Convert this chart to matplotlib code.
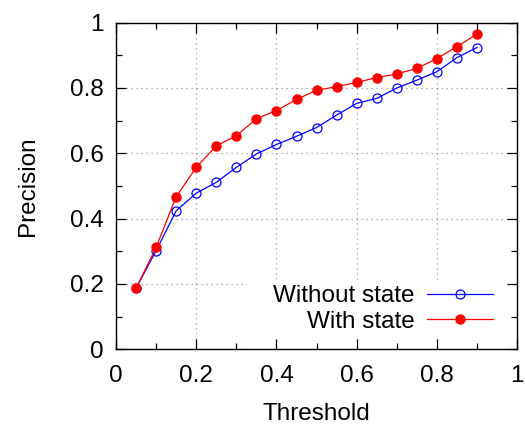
import matplotlib
matplotlib.use('Agg')
import matplotlib.pyplot as plt
from matplotlib.ticker import MultipleLocator, FuncFormatter
from matplotlib.patches import Rectangle

plt.rcParams['font.family'] = ['Liberation Sans', 'DejaVu Sans']

threshold = [0.05, 0.10, 0.15, 0.20, 0.25, 0.30, 0.35, 0.40, 0.45,
             0.50, 0.55, 0.60, 0.65, 0.70, 0.75, 0.80, 0.85, 0.90]
without_state = [0.187, 0.302, 0.424, 0.478, 0.511, 0.557, 0.598, 0.627, 0.652,
                 0.679, 0.717, 0.753, 0.768, 0.800, 0.824, 0.850, 0.893, 0.924]
with_state = [0.187, 0.312, 0.467, 0.557, 0.623, 0.654, 0.706, 0.731, 0.765,
              0.793, 0.804, 0.817, 0.832, 0.843, 0.860, 0.890, 0.927, 0.965]

FS = 17.5

fig = plt.figure(figsize=(5.25, 4.28), dpi=100)
ax = fig.add_axes([0.221, 0.184, 0.764, 0.763])
ax.set_axisbelow(False)

ax.plot(threshold, without_state, color='#0000ff', lw=0.9, marker='o',
        ms=6.5, mfc='none', mec='#0000ff', mew=0.9, label='Without state', zorder=2)
ax.plot(threshold, with_state, color='#ff0000', lw=0.9, marker='o',
        ms=6.5, mfc='#ff0000', mec='#ff0000', label='With state', zorder=2)

ax.set_xlim(0, 1)
ax.set_ylim(0, 1)
ax.xaxis.set_major_locator(MultipleLocator(0.2))
ax.yaxis.set_major_locator(MultipleLocator(0.2))
ax.xaxis.set_minor_locator(MultipleLocator(0.1))
ax.yaxis.set_minor_locator(MultipleLocator(0.1))
ax.xaxis.set_major_formatter(FuncFormatter(lambda v, p: f'{v:g}'))
ax.yaxis.set_major_formatter(FuncFormatter(lambda v, p: f'{v:g}'))
ax.tick_params(which='both', direction='in', top=True, right=True, labelsize=FS)
ax.tick_params(which='major', length=7, width=0.9)
ax.tick_params(axis='x', which='major', pad=11)
ax.tick_params(axis='y', which='major', pad=9)
ax.tick_params(which='minor', length=4.5, width=0.9)
for s in ax.spines.values():
    s.set_linewidth(1.0)

# dotted grid at major ticks, drawn below the key box
for v in ax.get_xticks()[1:-1]:
    ax.axvline(v, color='#999999', linestyle=(0, (1, 3)), lw=0.9, zorder=0.6)
for v in ax.get_yticks()[1:-1]:
    ax.axhline(v, color='#999999', linestyle=(0, (1, 3)), lw=0.9, zorder=0.6)

# opaque key area (gnuplot style)
ax.add_patch(Rectangle((0.327, 0.0), 0.673, 0.212, transform=ax.transAxes,
                       facecolor='white', edgecolor='none', zorder=1))

ax.set_xlabel('Threshold', fontsize=FS, labelpad=12)
ax.set_ylabel('Precision', fontsize=FS, labelpad=22)

leg = ax.legend(loc='lower right', markerfirst=False, fontsize=FS,
                frameon=False, handlelength=2.7, borderaxespad=0,
                labelspacing=0.15, handletextpad=0.5,
                bbox_to_anchor=(0.963, 0.02))
for t in leg.get_texts():
    t.set_ha('right')
leg._legend_box.align = 'right'

fig.savefig('out.png', dpi=100)
